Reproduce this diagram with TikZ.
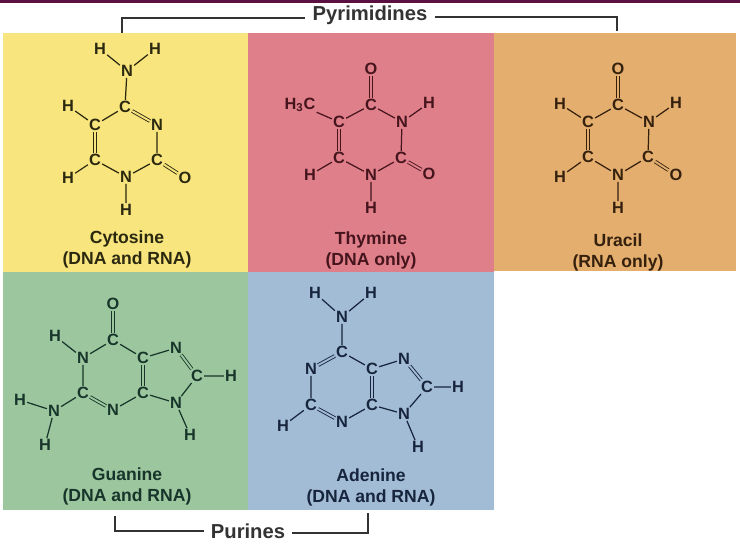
\documentclass[tikz,border=0pt]{standalone}
\usepackage{fontspec}
\setmainfont{Liberation Sans}
\definecolor{panelyellow}{HTML}{F8E57E}
\definecolor{panelred}{HTML}{DF7F8A}
\definecolor{panelorange}{HTML}{E3AE6E}
\definecolor{panelgreen}{HTML}{9CC79E}
\definecolor{panelblue}{HTML}{A3BCD6}
\definecolor{topbar}{HTML}{5A1040}
\definecolor{inkyellow}{HTML}{2B2810}
\definecolor{inkred}{HTML}{45141C}
\definecolor{inkorange}{HTML}{35200E}
\definecolor{inkgreen}{HTML}{17352A}
\definecolor{inkblue}{HTML}{16243C}
\definecolor{rulegray}{HTML}{333333}
\tikzset{
  atom/.style={inner sep=0.5pt,font=\bfseries\fontsize{9.3}{10}\selectfont},
  bond/.style={line width=0.7pt},
  dbl/.style={line width=0.5pt,double=#1,double distance=1.1pt},
  basename/.style={inner sep=0pt,align=center,font=\bfseries\fontsize{10}{11.9}\selectfont},
  family/.style={inner sep=4pt,text=rulegray,font=\bfseries\fontsize{11.5}{13}\selectfont},
  bracket/.style={draw=rulegray,line width=1pt}
}
\begin{document}
\begin{tikzpicture}[x=0.02cm,y=-0.02cm]
\useasboundingbox (0,0) rectangle (740,548);
\fill[white] (0,0) rectangle (740,548);
\fill[topbar] (0,0) rectangle (740,2.5);
\fill[panelyellow] (3,33) rectangle (248,272);
\fill[panelred] (248,33) rectangle (494,272);
\fill[panelorange] (494,33) rectangle (736,271);
\fill[panelgreen] (3,272) rectangle (248,510);
\fill[panelblue] (248,272) rectangle (494,510);

% pyrimidines bracket
\node[family] (pyrimidines) at (370,15) {Pyrimidines};
\coordinate (cytTop) at (122,33);
\coordinate (uraTop) at (617,31);
\draw[bracket] (pyrimidines.west) ++(0,3) -- (122,18) -- (cytTop);
\draw[bracket] (pyrimidines.east) ++(0,2) -- (617,17) -- (uraTop);

% purines bracket
\node[family] (purines) at (248,531) {Purines};
\coordinate (guaBottom) at (115,516);
\coordinate (adeBottom) at (368,513);
\draw[bracket] (purines.west) -- (115,531) -- (guaBottom);
\draw[bracket] (purines.east) ++(0,2) -- (368,533) -- (adeBottom);

% cytosine
\begin{scope}[color=inkyellow]
\node[atom] (cH1) at (100,49) {H};
\node[atom] (cH2) at (155,49) {H};
\node[atom] (cN4) at (127,71) {N};
\node[atom] (cC4) at (125,107) {C};
\node[atom] (cC5) at (95,125) {C};
\node[atom] (cN3) at (157,125) {N};
\node[atom] (cC6) at (95,160) {C};
\node[atom] (cC2) at (157,160) {C};
\node[atom] (cN1) at (126,177) {N};
\node[atom] (cO2) at (185,178) {O};
\node[atom] (cH5) at (68,106) {H};
\node[atom] (cH6) at (68,178) {H};
\node[atom] (cH7) at (126,210) {H};
\draw[bond] (cH1) -- (cN4) (cH2) -- (cN4) (cN4) -- (cC4) (cC4) -- (cC5) (cN3) -- (cC2);
\draw[bond] (cC6) -- (cN1) (cC2) -- (cN1) (cH5) -- (cC5) (cH6) -- (cC6) (cN1) -- (cH7);
\draw[dbl=panelyellow] (cC4) -- (cN3);
\draw[dbl=panelyellow] (cC5) -- (cC6);
\draw[dbl=panelyellow] (cC2) -- (cO2);
\node[basename] (cytosine) at (127,249) {Cytosine\\(DNA and RNA)};
\end{scope}

% thymine
\begin{scope}[color=inkred]
\node[atom] (tO4) at (371,69) {O};
\node[atom] (tC4) at (371,105) {C};
\node[atom] (tN3) at (402,122) {N};
\node[atom] (tH3) at (429,103) {H};
\node[atom] (tC5) at (339,122) {C};
\node[atom] (tMe) at (300,105) {H\textsubscript{3}C};
\node[atom] (tC6) at (339,158) {C};
\node[atom] (tC2) at (401,158) {C};
\node[atom] (tN1) at (371,175) {N};
\node[atom] (tO2) at (429,174) {O};
\node[atom] (tH6) at (310,175) {H};
\node[atom] (tH1) at (371,208) {H};
\draw[bond] (tC4) -- (tN3) (tC4) -- (tC5) (tN3) -- (tH3) (tN3) -- (tC2) (tC5) -- (tMe);
\draw[bond] (tC6) -- (tN1) (tC2) -- (tN1) (tC6) -- (tH6) (tN1) -- (tH1);
\draw[dbl=panelred] (tO4) -- (tC4);
\draw[dbl=panelred] (tC5) -- (tC6);
\draw[dbl=panelred] (tC2) -- (tO2);
\node[basename] (thymine) at (371,250) {Thymine\\(DNA only)};
\end{scope}

% uracil
\begin{scope}[color=inkorange]
\node[atom] (uO4) at (618,69) {O};
\node[atom] (uC4) at (618,105) {C};
\node[atom] (uN3) at (649,122) {N};
\node[atom] (uH3) at (676,103) {H};
\node[atom] (uC5) at (588,122) {C};
\node[atom] (uH5) at (560,104) {H};
\node[atom] (uC6) at (588,157) {C};
\node[atom] (uC2) at (648,157) {C};
\node[atom] (uN1) at (618,175) {N};
\node[atom] (uO2) at (676,175) {O};
\node[atom] (uH6) at (560,177) {H};
\node[atom] (uH1) at (618,208) {H};
\draw[bond] (uC4) -- (uN3) (uC4) -- (uC5) (uN3) -- (uH3) (uN3) -- (uC2) (uC5) -- (uH5);
\draw[bond] (uC6) -- (uN1) (uC2) -- (uN1) (uC6) -- (uH6) (uN1) -- (uH1);
\draw[dbl=panelorange] (uO4) -- (uC4);
\draw[dbl=panelorange] (uC5) -- (uC6);
\draw[dbl=panelorange] (uC2) -- (uO2);
\node[basename] (uracil) at (618,252) {Uracil\\(RNA only)};
\end{scope}

% guanine
\begin{scope}[color=inkgreen]
\node[atom] (gO6) at (113,304) {O};
\node[atom] (gC6) at (113,340) {C};
\node[atom] (gN1) at (83,358) {N};
\node[atom] (gH1) at (55,336) {H};
\node[atom] (gC2) at (83,393) {C};
\node[atom] (gN3) at (113,410) {N};
\node[atom] (gC5) at (143,358) {C};
\node[atom] (gC4) at (143,393) {C};
\node[atom] (gN7) at (176,348) {N};
\node[atom] (gC8) at (197,376) {C};
\node[atom] (gH8) at (231,376) {H};
\node[atom] (gN9) at (176,403) {N};
\node[atom] (gH9) at (190,435) {H};
\node[atom] (gN2) at (54,411) {N};
\node[atom] (gH2) at (20,400) {H};
\node[atom] (gH3) at (45,445) {H};
\draw[bond] (gC6) -- (gN1) (gC6) -- (gC5) (gN1) -- (gH1) (gN1) -- (gC2) (gC2) -- (gN2) (gN2) -- (gH2);
\draw[bond] (gN2) -- (gH3) (gN3) -- (gC4) (gC5) -- (gN7) (gC4) -- (gN9) (gC8) -- (gN9) (gC8) -- (gH8) (gN9) -- (gH9);
\draw[dbl=panelgreen] (gO6) -- (gC6);
\draw[dbl=panelgreen] (gC2) -- (gN3);
\draw[dbl=panelgreen] (gC5) -- (gC4);
\draw[dbl=panelgreen] (gN7) -- (gC8);
\node[basename] (guanine) at (127,486) {Guanine\\(DNA and RNA)};
\end{scope}

% adenine
\begin{scope}[color=inkblue]
\node[atom] (aH1) at (315,293) {H};
\node[atom] (aH2) at (371,293) {H};
\node[atom] (aN6) at (342,317) {N};
\node[atom] (aC6) at (342,352) {C};
\node[atom] (aN1) at (311,369) {N};
\node[atom] (aC2) at (311,405) {C};
\node[atom] (aN3) at (342,422) {N};
\node[atom] (aC5) at (372,369) {C};
\node[atom] (aC4) at (372,405) {C};
\node[atom] (aN7) at (404,359) {N};
\node[atom] (aC8) at (427,387) {C};
\node[atom] (aH8) at (458,387) {H};
\node[atom] (aN9) at (404,414) {N};
\node[atom] (aH9) at (418,447) {H};
\node[atom] (aH3) at (283,426) {H};
\draw[bond] (aH1) -- (aN6) (aH2) -- (aN6) (aN6) -- (aC6) (aC6) -- (aC5) (aN1) -- (aC2) (aC2) -- (aH3);
\draw[bond] (aN3) -- (aC4) (aC5) -- (aN7) (aC4) -- (aN9) (aC8) -- (aN9) (aC8) -- (aH8) (aN9) -- (aH9);
\draw[dbl=panelblue] (aC6) -- (aN1);
\draw[dbl=panelblue] (aC2) -- (aN3);
\draw[dbl=panelblue] (aC5) -- (aC4);
\draw[dbl=panelblue] (aN7) -- (aC8);
\node[basename] (adenine) at (371,487) {Adenine\\(DNA and RNA)};
\end{scope}

\end{tikzpicture}
\end{document}
